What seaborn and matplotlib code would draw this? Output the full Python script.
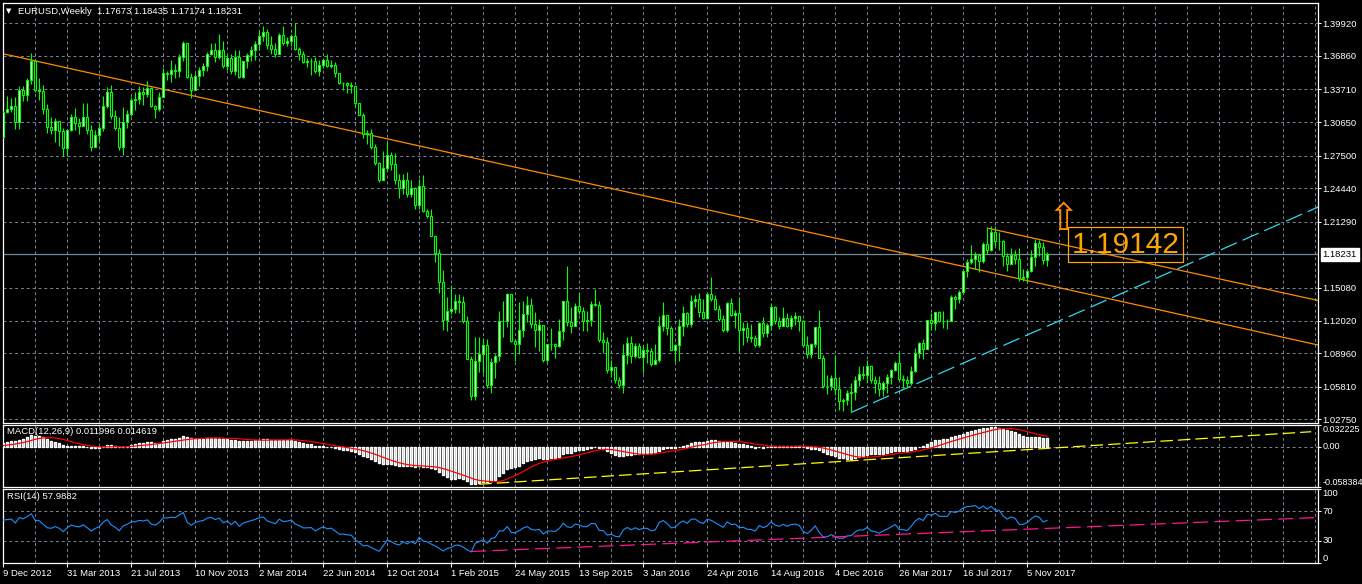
import numpy as np
import pandas as pd
import matplotlib
matplotlib.use("Agg")
import matplotlib.pyplot as plt
import matplotlib.transforms as mtransforms
import seaborn as sns

# Weekly EURUSD candles, one bar per week starting 9 Dec 2012
first_open = 1.2925
closes = [
    1.3160, 1.3185, 1.3215, 1.3065,
    1.3365, 1.3315, 1.3460, 1.3640, 1.3365, 1.3360, 1.3190, 1.3020,
    1.2995, 1.3075, 1.2985, 1.2820, 1.2990, 1.3110, 1.3055, 1.3030,
    1.3115, 1.2990, 1.2835, 1.2940, 1.3005, 1.3220, 1.3345, 1.3120,
    1.3010, 1.2830, 1.3065, 1.3140, 1.3275, 1.3280, 1.3345, 1.3325,
    1.3380, 1.3220, 1.3185, 1.3300, 1.3525, 1.3520, 1.3555, 1.3545,
    1.3680, 1.3805, 1.3485, 1.3365, 1.3495, 1.3555, 1.3590, 1.3705,
    1.3740, 1.3675, 1.3740, 1.3590,
    1.3665, 1.3540, 1.3680, 1.3485, 1.3635, 1.3690, 1.3745, 1.3800,
    1.3875, 1.3910, 1.3790, 1.3750, 1.3705, 1.3885, 1.3810, 1.3830,
    1.3870, 1.3755, 1.3705, 1.3630, 1.3635, 1.3640, 1.3540, 1.3600,
    1.3645, 1.3590, 1.3605, 1.3525, 1.3430, 1.3430, 1.3410, 1.3400,
    1.3240, 1.3130, 1.2950, 1.2960, 1.2830, 1.2680, 1.2520, 1.2630,
    1.2760, 1.2670, 1.2525, 1.2450, 1.2525, 1.2390, 1.2450, 1.2290,
    1.2465, 1.2230, 1.2180, 1.2000,
    1.1840, 1.1565, 1.1205, 1.1290, 1.1315, 1.1390, 1.1380, 1.1195,
    1.0840, 1.0495, 1.0820, 1.0890, 1.0970, 1.0600, 1.0810, 1.0870,
    1.1200, 1.1200, 1.1450, 1.1010, 1.0985, 1.1110, 1.1260, 1.1350,
    1.1165, 1.1110, 1.1160, 1.0830, 1.0980, 1.0980, 1.0960, 1.1100,
    1.1385, 1.1185, 1.1150, 1.1340, 1.1295, 1.1200, 1.1210, 1.1360,
    1.1350, 1.1015, 1.1005, 1.0740, 1.0770, 1.0645, 1.0595, 1.0880,
    1.0990, 1.0865, 1.0960, 1.0860,
    1.0925, 1.0915, 1.0795, 1.0830, 1.1155, 1.1255, 1.1130, 1.0930,
    1.0970, 1.1150, 1.1270, 1.1170, 1.1390, 1.1400, 1.1285, 1.1225,
    1.1450, 1.1400, 1.1310, 1.1220, 1.1115, 1.1365, 1.1255, 1.1275,
    1.1115, 1.1135, 1.1050, 1.1035, 1.0975, 1.1175, 1.1085, 1.1160,
    1.1325, 1.1200, 1.1155, 1.1230, 1.1155, 1.1225, 1.1240, 1.1200,
    1.0970, 1.0885, 1.0985, 1.1140, 1.0850, 1.0590, 1.0590, 1.0665,
    1.0560, 1.0450, 1.0455, 1.0520,
    1.0530, 1.0640, 1.0700, 1.0695, 1.0780, 1.0640, 1.0615, 1.0560,
    1.0620, 1.0670, 1.0735, 1.0800, 1.0650, 1.0640, 1.0615, 1.0725,
    1.0895, 1.0995, 1.0935, 1.1205, 1.1180, 1.1280, 1.1200, 1.1200,
    1.1200, 1.1425, 1.1400, 1.1470, 1.1665, 1.1750, 1.1775, 1.1820,
    1.1760, 1.1925, 1.1860, 1.2035, 1.1945, 1.1950, 1.1810, 1.1730,
    1.1820, 1.1780, 1.1605, 1.1610, 1.1665, 1.1800, 1.1930, 1.1895,
    1.17673, 1.18231,
]
highs = [
    1.3170, 1.3308, 1.3290, 1.3300,
    1.3400, 1.3405, 1.3480, 1.3710, 1.3575, 1.3475, 1.3410, 1.3230,
    1.3110, 1.3100, 1.3020, 1.3010, 1.3000, 1.3140, 1.3200, 1.3105,
    1.3245, 1.3240, 1.3035, 1.2995, 1.3060, 1.3305, 1.3390, 1.3415,
    1.3175, 1.3110, 1.3205, 1.3175, 1.3300, 1.3345, 1.3400, 1.3390,
    1.3450, 1.3395, 1.3225, 1.3345, 1.3570, 1.3540, 1.3645, 1.3610,
    1.3700, 1.3830, 1.3810, 1.3525, 1.3530, 1.3580, 1.3620, 1.3720,
    1.3810, 1.3810, 1.3890, 1.3830,
    1.3690, 1.3700, 1.3740, 1.3740, 1.3640, 1.3715, 1.3775, 1.3825,
    1.3915, 1.3965, 1.3935, 1.3875, 1.3810, 1.3905, 1.3965, 1.3860,
    1.3890, 1.3995, 1.3770, 1.3735, 1.3665, 1.3670, 1.3675, 1.3645,
    1.3665, 1.3700, 1.3650, 1.3630, 1.3525, 1.3445, 1.3445, 1.3445,
    1.3395, 1.3230, 1.3150, 1.2990, 1.3000, 1.2860, 1.2690, 1.2790,
    1.2885, 1.2780, 1.2770, 1.2575, 1.2575, 1.2600, 1.2520, 1.2455,
    1.2530, 1.2570, 1.2245, 1.2250,
    1.1970, 1.1870, 1.1680, 1.1425, 1.1535, 1.1450, 1.1450, 1.1430,
    1.1240, 1.0870, 1.1045, 1.1050, 1.1035, 1.1030, 1.0850, 1.0890,
    1.1290, 1.1390, 1.1465, 1.1440, 1.1025, 1.1380, 1.1390, 1.1435,
    1.1410, 1.1280, 1.1215, 1.1125, 1.0985, 1.1130, 1.0990, 1.1215,
    1.1390, 1.1715, 1.1330, 1.1370, 1.1460, 1.1330, 1.1290, 1.1390,
    1.1495, 1.1385, 1.1095, 1.1045, 1.0830, 1.0760, 1.0670, 1.0985,
    1.1045, 1.1060, 1.0990, 1.0990,
    1.0970, 1.0990, 1.0945, 1.0985, 1.1240, 1.1375, 1.1240, 1.1150,
    1.0985, 1.1215, 1.1340, 1.1280, 1.1440, 1.1440, 1.1465, 1.1400,
    1.1460, 1.1615, 1.1445, 1.1350, 1.1250, 1.1375, 1.1415, 1.1300,
    1.1425, 1.1190, 1.1185, 1.1165, 1.1070, 1.1185, 1.1235, 1.1175,
    1.1365, 1.1340, 1.1235, 1.1325, 1.1275, 1.1255, 1.1285, 1.1245,
    1.1210, 1.1060, 1.0990, 1.1145, 1.1300, 1.0875, 1.0690, 1.0690,
    1.0875, 1.0670, 1.0475, 1.0550,
    1.0620, 1.0685, 1.0775, 1.0775, 1.0830, 1.0775, 1.0680, 1.0680,
    1.0630, 1.0700, 1.0745, 1.0825, 1.0905, 1.0690, 1.0680, 1.0780,
    1.0940, 1.1000, 1.1025, 1.1210, 1.1270, 1.1285, 1.1295, 1.1295,
    1.1215, 1.1445, 1.1445, 1.1490, 1.1680, 1.1775, 1.1910, 1.1850,
    1.1830, 1.1940, 1.2070, 1.2090, 1.2090, 1.2035, 1.1960, 1.1835,
    1.1880, 1.1860, 1.1880, 1.1690, 1.1680, 1.1860, 1.1965, 1.1960,
    1.1940, 1.18435,
]
lows = [
    1.2925, 1.3150, 1.3160, 1.3000,
    1.3000, 1.3265, 1.3260, 1.3425, 1.3350, 1.3275, 1.3145, 1.2960,
    1.2955, 1.2880, 1.2840, 1.2750, 1.2745, 1.2985, 1.2995, 1.2950,
    1.3035, 1.2955, 1.2795, 1.2835, 1.2875, 1.2980, 1.3200, 1.3090,
    1.2990, 1.2805, 1.2755, 1.3010, 1.3125, 1.3180, 1.3235, 1.3225,
    1.3300, 1.3205, 1.3105, 1.3170, 1.3300, 1.3460, 1.3445, 1.3480,
    1.3490, 1.3640, 1.3480, 1.3295, 1.3365, 1.3400, 1.3500, 1.3545,
    1.3690, 1.3625, 1.3660, 1.3575,
    1.3550, 1.3520, 1.3510, 1.3475, 1.3475, 1.3575, 1.3640, 1.3645,
    1.3740, 1.3830, 1.3750, 1.3705, 1.3675, 1.3705, 1.3790, 1.3780,
    1.3775, 1.3745, 1.3650, 1.3615, 1.3585, 1.3505, 1.3525, 1.3500,
    1.3570, 1.3585, 1.3570, 1.3490, 1.3420, 1.3365, 1.3335, 1.3335,
    1.3220, 1.3130, 1.2920, 1.2860, 1.2810, 1.2665, 1.2500, 1.2570,
    1.2615, 1.2615, 1.2485, 1.2355, 1.2390, 1.2360, 1.2360, 1.2245,
    1.2245, 1.2220, 1.2160, 1.2000,
    1.1755, 1.1460, 1.1115, 1.1100, 1.1260, 1.1270, 1.1275, 1.1175,
    1.0840, 1.0460, 1.0460, 1.0715, 1.0710, 1.0565, 1.0520, 1.0660,
    1.0820, 1.1050, 1.1140, 1.1000, 1.0820, 1.0885, 1.1050, 1.1190,
    1.1135, 1.0955, 1.0915, 1.0810, 1.0810, 1.0925, 1.0850, 1.0950,
    1.1020, 1.1150, 1.1085, 1.1150, 1.1265, 1.1105, 1.1105, 1.1150,
    1.1340, 1.1000, 1.0895, 1.0705, 1.0675, 1.0620, 1.0565, 1.0525,
    1.0795, 1.0805, 1.0855, 1.0855,
    1.0710, 1.0805, 1.0780, 1.0805, 1.0810, 1.1100, 1.1065, 1.0930,
    1.0810, 1.0820, 1.1060, 1.1145, 1.1145, 1.1325, 1.1235, 1.1215,
    1.1220, 1.1390, 1.1300, 1.1200, 1.1095, 1.1095, 1.1240, 1.1130,
    1.0910, 1.0975, 1.1000, 1.1000, 1.0950, 1.0950, 1.1045, 1.1045,
    1.1110, 1.1165, 1.1125, 1.1150, 1.1140, 1.1120, 1.1160, 1.1100,
    1.0950, 1.0855, 1.0855, 1.0955, 1.0850, 1.0570, 1.0515, 1.0550,
    1.0505, 1.0365, 1.0350, 1.0405,
    1.0340, 1.0455, 1.0585, 1.0655, 1.0620, 1.0620, 1.0525, 1.0495,
    1.0495, 1.0525, 1.0605, 1.0725, 1.0645, 1.0570, 1.0570, 1.0600,
    1.0720, 1.0850, 1.0840, 1.0935, 1.1110, 1.1110, 1.1190, 1.1130,
    1.1120, 1.1195, 1.1310, 1.1370, 1.1450, 1.1610, 1.1730, 1.1690,
    1.1660, 1.1740, 1.1825, 1.1855, 1.1900, 1.1860, 1.1715, 1.1670,
    1.1730, 1.1730, 1.1575, 1.1575, 1.1555, 1.1660, 1.1715, 1.1810,
    1.1730, 1.17174,
]

date_labels = [
    "9 Dec 2012", "31 Mar 2013", "21 Jul 2013", "10 Nov 2013", "2 Mar 2014",
    "22 Jun 2014", "12 Oct 2014", "1 Feb 2015", "24 May 2015", "13 Sep 2015",
    "3 Jan 2016", "24 Apr 2016", "14 Aug 2016", "4 Dec 2016", "26 Mar 2017",
    "16 Jul 2017", "5 Nov 2017",
]
label_step = 16   # bars between date labels
grid_step = 8     # bars between vertical grid lines

price_ticks = [1.39920, 1.36860, 1.33710, 1.30650, 1.27500, 1.24440, 1.21290,
               1.15080, 1.12020, 1.08960, 1.05810, 1.02750]
last_price = 1.18231
header = "EURUSD,Weekly  1.17673 1.18435 1.17174 1.18231"

# chart objects drawn on the price window: (bar index, price)
trend_a = [(-1, 1.3714), (329, 1.0970)]
trend_b = [(246, 1.2070), (329, 1.1388)]
trend_up = [(212, 1.0340), (329, 1.2272)]
arrow_at = (264.9, 1.2146)
target_at = (267.2, 1.19142)
target_text = "1.19142"

# indicator windows
macd_label = "MACD(12,26,9) 0.011996 0.014619"
macd_ticks = [0.032225, 0.0, -0.058384]
macd_tick_text = ["0.032225", "0.00", "-0.058384"]
macd_trend = [(119, -0.0548), (327, 0.0217)]
rsi_label = "RSI(14) 57.9882"
rsi_ticks = [100, 70, 30, 0]
rsi_trend = [(117, 15.3), (329, 61.6)]

# indicator state just before the first bar
ema12_seed, ema26_seed = 1.2895, 1.2860
macd_seed = 0.001
rsi_gain_seed, rsi_loss_seed = 0.0065, 0.0060

# colours (MT4 "green on black")
BG = "black"
FG = "white"
GRID = "#778899"
CANDLE = "#00FF00"
ORANGE = "#FF8C00"
CYAN = "#2ED8EE"

# ---- derived series ----
closes_a = np.array(closes)
opens_a = np.array([first_open] + closes[:-1])
highs_a = np.maximum(np.array(highs), np.maximum(opens_a, closes_a))
lows_a = np.minimum(np.array(lows), np.minimum(opens_a, closes_a))
bars = np.arange(len(closes))

ema_fast = pd.Series([ema12_seed] + closes).ewm(span=12, adjust=False).mean().iloc[1:].to_numpy()
ema_slow = pd.Series([ema26_seed] + closes).ewm(span=26, adjust=False).mean().iloc[1:].to_numpy()
macd = ema_fast - ema_slow
signal = pd.Series([macd_seed] * 8 + list(macd)).rolling(9).mean().iloc[8:].to_numpy()

rsi = []
avg_gain, avg_loss = rsi_gain_seed, rsi_loss_seed
prev = first_open
for c in closes:
    diff = c - prev
    avg_gain = (avg_gain * 13 + max(diff, 0)) / 14
    avg_loss = (avg_loss * 13 + max(-diff, 0)) / 14
    rsi.append(100 - 100 / (1 + avg_gain / avg_loss))
    prev = c
rsi = np.array(rsi)

# ---- figure ----
sns.set_style("dark", {"axes.facecolor": BG, "figure.facecolor": BG})
plt.rcParams["font.family"] = ["Liberation Sans", "DejaVu Sans"]
FS = 6.8

W, H = 1362, 584
fig = plt.figure(figsize=(W / 100, H / 100), dpi=100, facecolor=BG)


def panel(top, bottom):
    left, right = 2.7, 1318
    return fig.add_axes([left / W, 1 - bottom / H, (right - left) / W, (bottom - top) / H])


ax = panel(2.7, 422.7)
ax_macd = panel(424.5, 486.7)
ax_rsi = panel(489.3, 562.7)

x_lo, x_hi = -0.15, 328.7
grid_dash = (0, (3, 3))

for a in (ax, ax_macd, ax_rsi):
    a.set_facecolor(BG)
    a.set_xlim(x_lo, x_hi)
    for s in a.spines.values():
        s.set_color(FG)
        s.set_linewidth(0.9)
    for gx in np.arange(grid_step, x_hi, grid_step):
        a.axvline(gx, color=GRID, lw=0.7, ls=grid_dash, zorder=0)
    a.yaxis.tick_right()
    a.tick_params(axis="y", colors=FG, labelsize=FS, length=2, width=0.7, pad=1)
    a.tick_params(axis="x", bottom=False, labelbottom=False)
    a.grid(False)

# ---- price window ----
ax.set_ylim(1.02432, 1.41853)
for p in price_ticks:
    ax.axhline(p, color=GRID, lw=0.7, ls=grid_dash, zorder=0)
ax.set_yticks(price_ticks)
ax.set_yticklabels([f"{p:.5f}" for p in price_ticks])

ax.axhline(last_price, color=GRID, lw=0.9, zorder=1)

bull = closes_a >= opens_a
ax.vlines(bars, lows_a, highs_a, color=CANDLE, lw=0.8, zorder=3)
ax.bar(bars, np.abs(closes_a - opens_a), bottom=np.minimum(opens_a, closes_a),
       width=0.52, color=np.where(bull, "white", "black"), edgecolor=CANDLE,
       linewidth=0.8, zorder=4)

for line, col, style in [(trend_a, ORANGE, "-"), (trend_b, ORANGE, "-"),
                         (trend_up, CYAN, (0, (14, 5)))]:
    (x0, y0), (x1, y1) = line
    ax.plot([x0, x1], [y0, y1], color=col, lw=0.9, ls=style, zorder=2)

ax.text(arrow_at[0], arrow_at[1], "\u21e7", color=ORANGE, fontsize=27,
        family=["DejaVu Sans"], ha="center", va="center", zorder=6)
ax.text(target_at[0], target_at[1], target_text, color="#FFA500", fontsize=21.5,
        ha="left", va="center", zorder=6,
        bbox=dict(boxstyle="square,pad=0.12", fc="none", ec="#FFA500", lw=0.9))

blend = mtransforms.blended_transform_factory(ax.transAxes, ax.transData)
ax.text(1.0035, last_price, f"{last_price:.5f}", transform=blend, color="black",
        fontsize=FS, ha="left", va="center", clip_on=False,
        bbox=dict(boxstyle="square,pad=0.22", fc="white", ec="white"))

fig.text(8.5 / W, 1 - 11 / H, "\u25bc", color=FG, fontsize=5, family=["DejaVu Sans"],
         ha="center", va="center")
fig.text(18 / W, 1 - 11 / H, header, color=FG, fontsize=FS, ha="left", va="center")

# ---- MACD window ----
ax_macd.set_ylim(macd_ticks[2], macd_ticks[0])
ax_macd.axhline(0, color=GRID, lw=0.7, ls=grid_dash, zorder=0)
ax_macd.bar(bars, macd, width=0.6, color="#C0C0C0", zorder=2)
sns.lineplot(x=bars, y=signal, ax=ax_macd, color="red", lw=0.9, zorder=3, legend=False)
(x0, y0), (x1, y1) = macd_trend
ax_macd.plot([x0, x1], [y0, y1], color="yellow", lw=0.9, ls=(0, (10, 4)), zorder=4)
ax_macd.set_yticks(macd_ticks)
ax_macd.set_yticklabels(macd_tick_text)
for lab, va in zip(ax_macd.get_yticklabels(), ["top", "center", "bottom"]):
    lab.set_verticalalignment(va)
ax_macd.tick_params(axis="y", labelsize=6.5)
ax_macd.set_ylabel("")
ax_macd.text(0.0035, 0.88, macd_label, transform=ax_macd.transAxes, color=FG,
             fontsize=FS, ha="left", va="center")

# ---- RSI window ----
ax_rsi.set_ylim(0, 100)
for lvl in (70, 30):
    ax_rsi.axhline(lvl, color=GRID, lw=0.7, ls=grid_dash, zorder=0)
sns.lineplot(x=bars, y=rsi, ax=ax_rsi, color="#1E90FF", lw=0.8, zorder=3, legend=False)
(x0, y0), (x1, y1) = rsi_trend
ax_rsi.plot([x0, x1], [y0, y1], color="#FF1493", lw=0.9, ls=(0, (12, 5)), zorder=4)
ax_rsi.set_yticks(rsi_ticks)
ax_rsi.set_yticklabels([str(v) for v in rsi_ticks])
for lab, va in zip(ax_rsi.get_yticklabels(), ["top", "center", "center", "bottom"]):
    lab.set_verticalalignment(va)
ax_rsi.set_ylabel("")
ax_rsi.text(0.0035, 0.9, rsi_label, transform=ax_rsi.transAxes, color=FG,
            fontsize=FS, ha="left", va="center")

label_pos = np.arange(len(date_labels)) * label_step
ax_rsi.set_xticks(label_pos)
ax_rsi.set_xticklabels(date_labels, ha="left")
ax_rsi.tick_params(axis="x", bottom=True, labelbottom=True, colors=FG,
                   labelsize=FS, length=3, width=0.7, pad=1.5)
ax_rsi.set_xlim(x_lo, x_hi)

fig.savefig("out.png", dpi=100, facecolor=BG)
